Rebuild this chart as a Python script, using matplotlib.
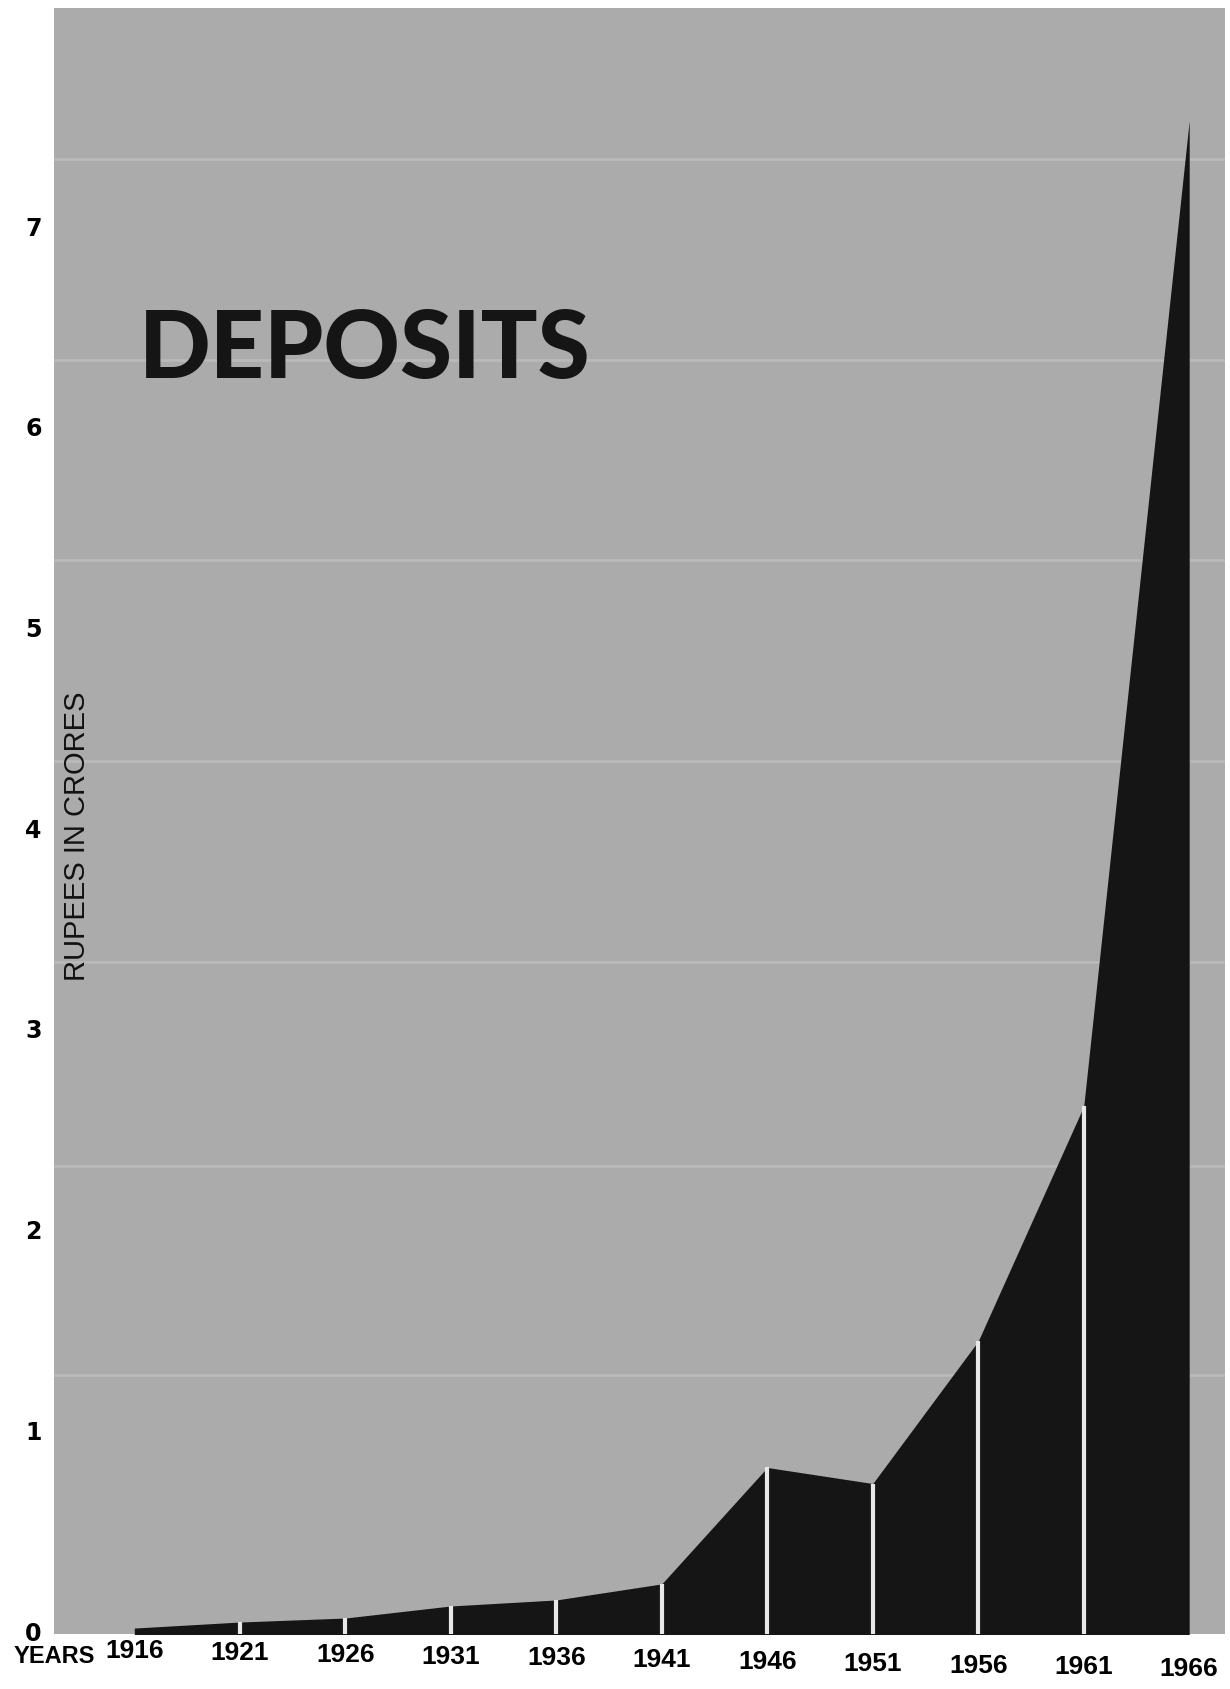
import matplotlib.pyplot as plt

# Deposits, rupees in crores
years = [1916, 1921, 1926, 1931, 1936, 1941, 1946, 1951, 1956, 1961, 1966]
deposits = [0.01, 0.04, 0.06, 0.12, 0.15, 0.23, 0.81, 0.73, 1.44, 2.61, 7.52]
year_labels = [str(y) for y in years]
y_ticks = [0, 1, 2, 3, 4, 5, 6, 7]
# faint ruled lines visible on the board
rule_lines = [1.27, 2.31, 3.33, 4.33, 5.33, 6.33, 7.33]

narrow = ['Liberation Sans Narrow', 'Liberation Sans']

fig = plt.figure(figsize=(12.3, 16.9), dpi=100)
fig.patch.set_facecolor('white')
ax = fig.add_axes([0.044, 0.0325, 0.952, 0.962])
ax.set_facecolor('#ababab')

for r in rule_lines:
    ax.axhline(r, color='#b9b9b9', linewidth=2, zorder=1)

ax.fill_between(years, deposits, -0.05, color='#151515', linewidth=0, zorder=2)

# white separators at each year
for x, v in zip(years[1:-1], deposits[1:-1]):
    ax.plot([x, x], [-0.05, v], color='#e8e8e8', linewidth=3, zorder=3,
            solid_capstyle='butt')

ax.set_xlim(1912.2, 1967.7)
ax.set_ylim(-0.02, 8.08)
for s in ax.spines.values():
    s.set_visible(False)

ax.set_xticks([])
ax.set_yticks(y_ticks)
ax.set_yticklabels([str(t) for t in y_ticks], fontsize=17, fontweight='bold',
                   family='DejaVu Sans')
ax.tick_params(axis='y', length=0, pad=9)

# year labels drift slightly downward to the right, as on the board
for i, (x, lab) in enumerate(zip(years, year_labels)):
    ax.text(x, -0.04 - 0.009 * i, lab, ha='center', va='top', fontsize=19,
            fontweight='bold', family=narrow, clip_on=False)
ax.text(-0.035, -0.05 / 8.1, 'YEARS', transform=ax.transAxes, ha='left',
        va='top', fontsize=17, fontweight='bold', family=narrow)

ax.text(1913.3, 3.96, 'RUPEES IN CRORES', rotation=90, ha='center', va='center',
        fontsize=21, family=narrow, color='#111111')

ax.text(1916.2, 6.38, 'DEPOSITS', ha='left', va='center', fontsize=68,
        fontweight=900, family='Lato', color='#151515')

fig.savefig('out.png', dpi=100)
